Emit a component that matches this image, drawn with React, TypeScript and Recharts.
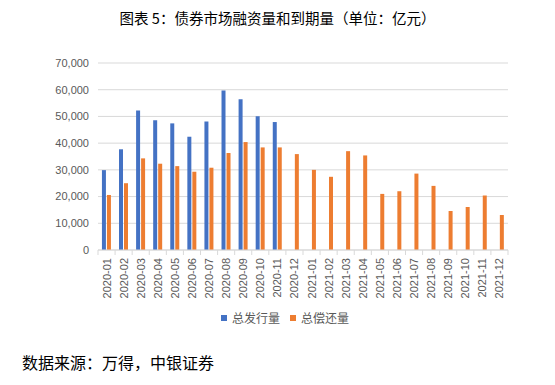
import React from 'react';
import { BarChart, Bar, XAxis, YAxis, CartesianGrid } from 'recharts';

// 月份
const months = [
  '2020-01', '2020-02', '2020-03', '2020-04', '2020-05', '2020-06',
  '2020-07', '2020-08', '2020-09', '2020-10', '2020-11', '2020-12',
  '2021-01', '2021-02', '2021-03', '2021-04', '2021-05', '2021-06',
  '2021-07', '2021-08', '2021-09', '2021-10', '2021-11', '2021-12',
];

// 总发行量（亿元），2020-12 以后无数据
const issuance = [
  29900, 37700, 52200, 48600, 47400, 42400,
  48100, 59700, 56400, 50100, 47900, null,
  null, null, null, null, null, null,
  null, null, null, null, null, null,
];

// 总偿还量（亿元）
const repayment = [
  20600, 25000, 34300, 32300, 31400, 29300,
  30800, 36300, 40400, 38400, 38400, 35900,
  30000, 27400, 37000, 35400, 21000, 22000,
  28600, 24000, 14600, 16100, 20400, 13100,
];

const yTicks = [0, 10000, 20000, 30000, 40000, 50000, 60000, 70000];

const data = months.map((m, i) => ({
  month: m,
  issuance: issuance[i],
  repayment: repayment[i],
}));

const BLUE = '#4472C4';
const ORANGE = '#ED7D31';
const GRID = '#D9D9D9';
const TEXT = '#595959';
const CJK = '"Noto Sans CJK SC", sans-serif';
const LATIN = 'Liberation Sans, Arial, sans-serif';

const W = 555;
const H = 385;
const LEFT = 98;
const RIGHT = 47;
const TOP = 63;
const BAND = (W - LEFT - RIGHT) / months.length;

function MonthTick(props: any) {
  const { x, y, payload, index } = props;
  const half = BAND / 2;
  return (
    <g>
      <line x1={x - half} y1={y - 8} x2={x - half} y2={y - 3} stroke={GRID} />
      {index === months.length - 1 && (
        <line x1={x + half} y1={y - 8} x2={x + half} y2={y - 3} stroke={GRID} />
      )}
      <text
        x={x}
        y={y}
        transform={`rotate(-90, ${x}, ${y})`}
        textAnchor="end"
        dominantBaseline="central"
        fontSize={11}
        fill={TEXT}
        fontFamily={LATIN}
      >
        {payload.value}
      </text>
    </g>
  );
}

export default function App() {
  return (
    <div style={{ position: 'absolute', left: 0, top: 0, width: W, height: H, background: '#fff' }}>
      <div
        style={{
          position: 'absolute', top: 9, left: 0, width: W, textAlign: 'center',
          fontFamily: CJK, fontSize: 14.5, color: '#000', lineHeight: '18px',
        }}
      >
        图表 5：债券市场融资量和到期量（单位：亿元）
      </div>
      <BarChart
        width={W}
        height={H}
        data={data}
        margin={{ top: TOP, right: RIGHT, left: 0, bottom: 0 }}
        barCategoryGap="23%"
        barGap={1}
      >
        <CartesianGrid vertical={false} stroke={GRID} />
        <XAxis
          dataKey="month"
          interval={0}
          height={H - 250}
          axisLine={{ stroke: GRID }}
          tickLine={false}
          tick={<MonthTick />}
          tickSize={0}
          tickMargin={8}
        />
        <YAxis
          width={LEFT}
          domain={[0, 70000]}
          ticks={yTicks}
          axisLine={false}
          tickLine={false}
          tickMargin={3}
          tick={{ fontSize: 11, fill: TEXT, fontFamily: LATIN }}
          tickFormatter={(v: number) => v.toLocaleString('en-US')}
        />
        <Bar dataKey="issuance" name="总发行量" fill={BLUE} isAnimationActive={false} />
        <Bar dataKey="repayment" name="总偿还量" fill={ORANGE} isAnimationActive={false} />
      </BarChart>
      <div
        style={{
          position: 'absolute', top: 310, left: 221, display: 'flex', alignItems: 'center',
          fontFamily: CJK, fontSize: 12, color: TEXT, lineHeight: '16px',
        }}
      >
        <span style={{ width: 6, height: 6, background: BLUE, display: 'inline-block', marginRight: 5 }} />
        <span style={{ marginRight: 10 }}>总发行量</span>
        <span style={{ width: 6, height: 6, background: ORANGE, display: 'inline-block', marginRight: 5 }} />
        <span>总偿还量</span>
      </div>
      <div
        style={{
          position: 'absolute', top: 352, left: 22,
          fontFamily: CJK, fontSize: 16, color: '#000', lineHeight: '20px',
        }}
      >
        数据来源：万得，中银证券
      </div>
    </div>
  );
}
